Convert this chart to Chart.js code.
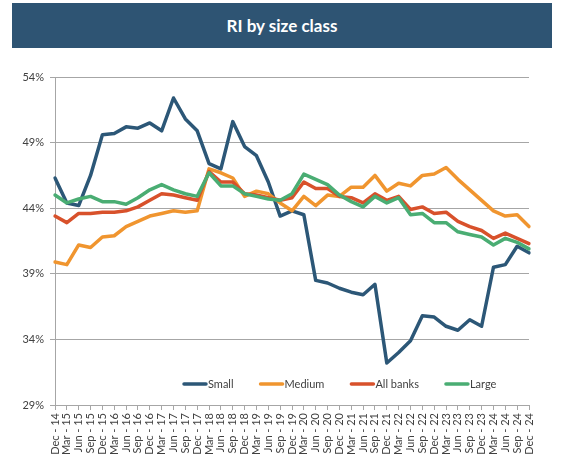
<!DOCTYPE html>
<html>
<head>
<meta charset="utf-8">
<script src="https://cdn.jsdelivr.net/npm/chart.js@4"></script>
<style>
  html, body { margin: 0; padding: 0; background: #fff; }
  #wrap { position: relative; width: 564px; height: 463px; }
  #title {
    position: absolute; left: 12px; top: 3px; width: 540px; height: 45px;
    background: #2E5473; color: #fff; font: bold 17px Lato, sans-serif;
    display: flex; align-items: center; justify-content: center;
  }
  canvas { position: absolute; left: 0; top: 0; }
</style>
</head>
<body>
<div id="wrap">
  <div id="title">RI by size class</div>
  <canvas id="ri-chart" width="564" height="463"></canvas>
</div>
<script>
// quarterly labels, Dec-14 .. Dec-24
const labels = [
  "Dec - 14", "Mar - 15", "Jun - 15", "Sep - 15", "Dec - 15", "Mar - 16", "Jun - 16", "Sep - 16",
  "Dec - 16", "Mar - 17", "Jun - 17", "Sep - 17", "Dec - 17", "Mar - 18", "Jun - 18", "Sep - 18",
  "Dec - 18", "Mar - 19", "Jun - 19", "Sep - 19", "Dec - 19", "Mar - 20", "Jun - 20", "Sep - 20",
  "Dec - 20", "Mar - 21", "Jun - 21", "Sep - 21", "Dec - 21", "Mar - 22", "Jun - 22", "Sep - 22",
  "Dec - 22", "Mar - 23", "Jun - 23", "Sep - 23", "Dec - 23", "Mar - 24", "Jun - 24", "Sep - 24",
  "Dec - 24"
];

// values in %
const small = [46.3, 44.4, 44.2, 46.5, 49.6, 49.7, 50.2, 50.1, 50.5, 49.9, 52.4, 50.8, 49.9, 47.4,
  47.0, 50.6, 48.7, 48.0, 46.0, 43.4, 43.8, 43.5, 38.5, 38.3, 37.9, 37.6, 37.4, 38.2, 32.2, 33.0,
  33.9, 35.8, 35.7, 35.0, 34.7, 35.5, 35.0, 39.5, 39.7, 41.1, 40.6];
const medium = [39.9, 39.7, 41.2, 41.0, 41.8, 41.9, 42.6, 43.0, 43.4, 43.6, 43.8, 43.7, 43.8, 47.0,
  46.7, 46.3, 44.9, 45.3, 45.1, 44.4, 43.8, 44.9, 44.2, 45.0, 44.9, 45.6, 45.6, 46.5, 45.3, 45.9,
  45.7, 46.5, 46.6, 47.1, 46.2, 45.4, 44.6, 43.8, 43.4, 43.5, 42.6];
const allBanks = [43.4, 42.9, 43.6, 43.6, 43.7, 43.7, 43.8, 44.1, 44.6, 45.1, 45.0, 44.8, 44.6, 46.8,
  46.0, 46.0, 45.1, 45.0, 44.8, 44.6, 44.8, 46.0, 45.5, 45.5, 44.9, 44.8, 44.4, 45.1, 44.6, 44.9,
  43.9, 44.1, 43.6, 43.7, 43.0, 42.6, 42.3, 41.7, 42.1, 41.7, 41.3];
const large = [45.0, 44.4, 44.7, 44.9, 44.5, 44.5, 44.3, 44.8, 45.4, 45.8, 45.4, 45.1, 44.9, 46.7,
  45.7, 45.7, 45.1, 44.9, 44.7, 44.6, 45.1, 46.6, 46.2, 45.8, 45.0, 44.5, 44.1, 44.9, 44.4, 44.8,
  43.5, 43.6, 42.9, 42.9, 42.2, 42.0, 41.8, 41.2, 41.7, 41.4, 40.9];

const gridColor = "#A6A6A6";
const textColor = "#404040";
const font = { family: "Lato, sans-serif", size: 11 };

function line(label, data, color, order) {
  return {
    label, data, order,
    borderColor: color,
    backgroundColor: color,
    borderWidth: 3.5,
    borderJoinStyle: "round",
    borderCapStyle: "round",
    pointRadius: 0,
    tension: 0,
    fill: false
  };
}

// legend drawn inside the plot, near the bottom
const insideLegend = {
  id: "insideLegend",
  afterDraw(chart) {
    const { ctx, chartArea } = chart;
    const y = chartArea.bottom - 21;
    let x = 184;
    ctx.save();
    ctx.font = "11px Lato, sans-serif";
    ctx.textBaseline = "middle";
    chart.data.datasets.forEach(ds => {
      ctx.strokeStyle = ds.borderColor;
      ctx.lineWidth = 3.5;
      ctx.lineCap = "round";
      ctx.beginPath();
      ctx.moveTo(x, y);
      ctx.lineTo(x + 22, y);
      ctx.stroke();
      ctx.fillStyle = textColor;
      ctx.fillText(ds.label, x + 24, y);
      x += 24 + ctx.measureText(ds.label).width + 27;
    });
    ctx.restore();
  }
};

new Chart(document.getElementById("ri-chart"), {
  type: "line",
  data: {
    labels,
    datasets: [
      line("Small", small, "#2C5777", 3),
      line("Medium", medium, "#F0952F", 2),
      line("All banks", allBanks, "#D8512B", 1),
      line("Large", large, "#4AAD73", 0)
    ]
  },
  options: {
    responsive: false,
    animation: false,
    layout: { padding: { top: 77, right: 35, left: 0, bottom: 0 } },
    plugins: { legend: { display: false }, tooltip: { enabled: false } },
    scales: {
      x: {
        offset: false,
        grid: { drawOnChartArea: false, drawTicks: true, tickLength: 5, color: gridColor },
        border: { color: gridColor },
        ticks: { autoSkip: false, minRotation: 90, maxRotation: 90, font, color: textColor, padding: 3 },
        afterFit: s => { s.height = 58; }
      },
      y: {
        min: 29,
        max: 54,
        grid: { color: gridColor, tickLength: 5 },
        border: { color: gridColor },
        ticks: { stepSize: 5, font, color: textColor, padding: 6, callback: v => v + "%" },
        afterFit: s => { s.width = 55; }
      }
    }
  },
  plugins: [insideLegend]
});
</script>
</body>
</html>
